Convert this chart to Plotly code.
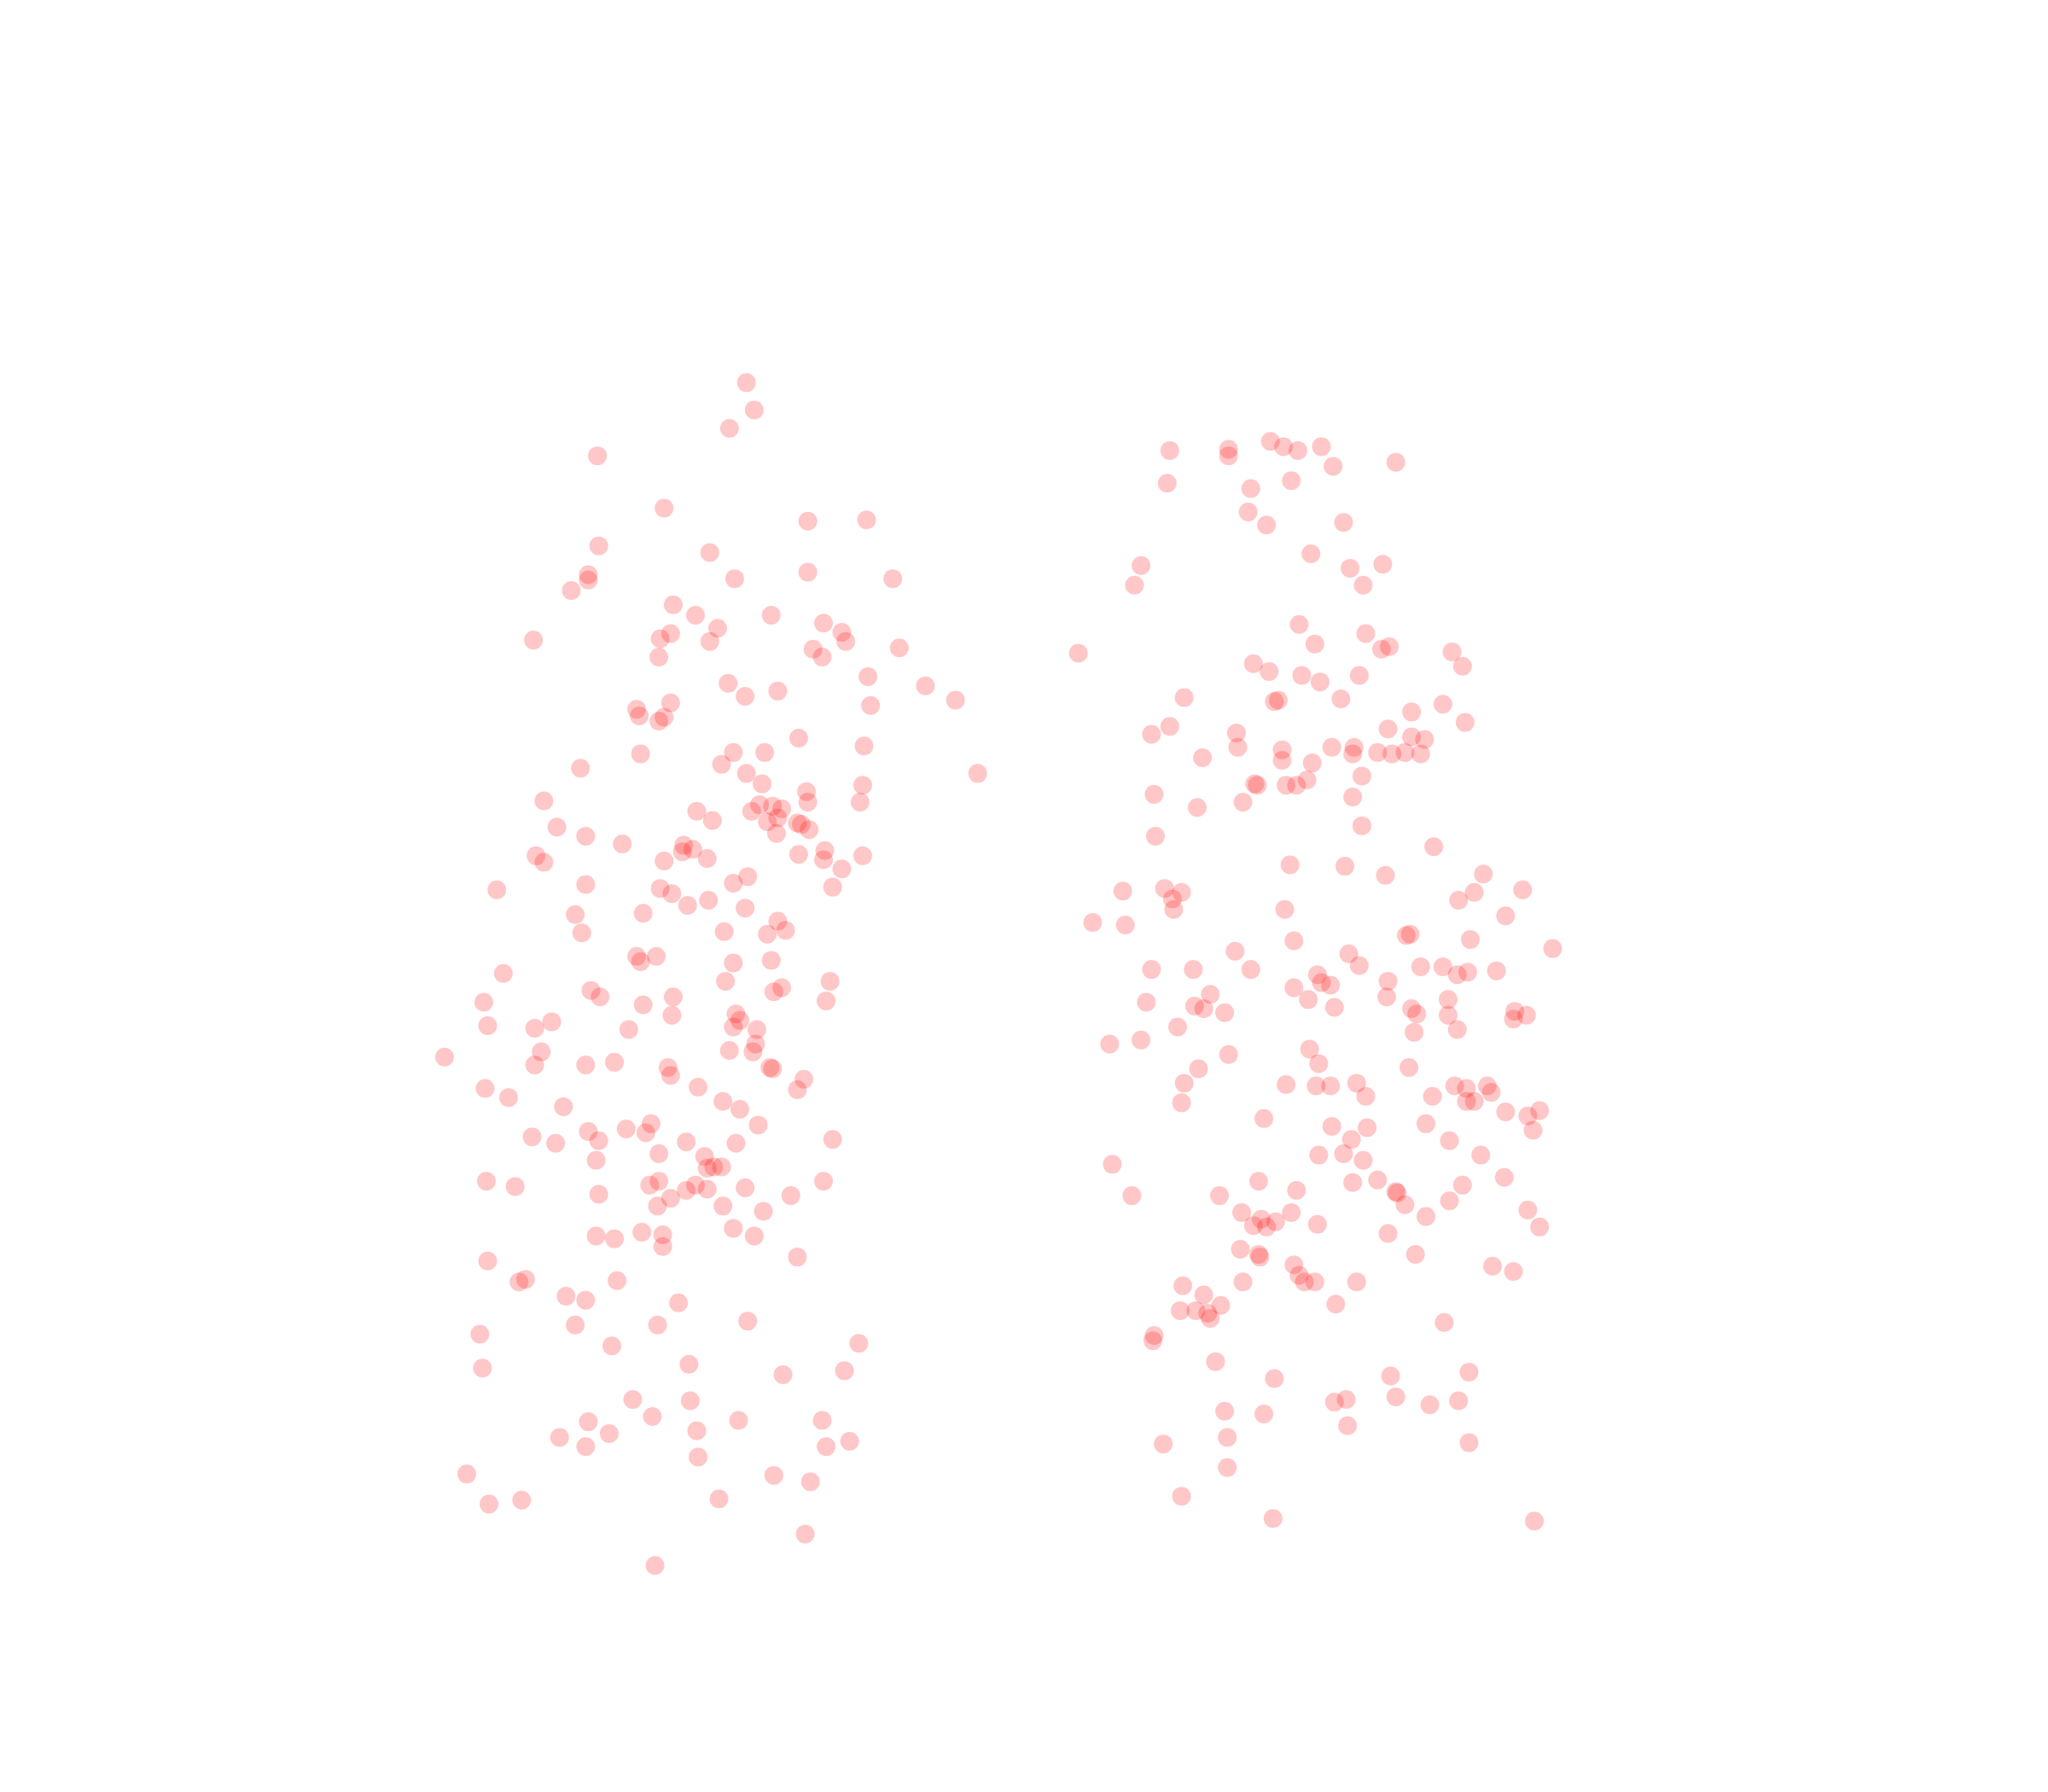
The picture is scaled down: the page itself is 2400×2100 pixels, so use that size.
import plotly.graph_objects as go

left = [(571,293),(577,314),(558,328),(457,349),(508,389),(618,399),(663,398),(458,418),(543,423),(450,440),(450,444),(437,452),(562,443),(618,438),(683,443),(515,463),(532,471),(590,471),(549,481),(630,477),(644,484),(647,491),(408,490),(505,489),(513,485),(543,491),(504,503),(622,497),(629,503),(688,496),(664,518),(557,523),(570,533),(595,529),(708,525),(731,536),(666,540),(513,538),(487,543),(489,548),(508,549),(504,552),(611,565),(661,571),(490,577),(561,576),(585,576),(552,585),(444,588),(571,592),(583,600),(748,592),(660,601),(617,606),(618,614),(658,614),(416,613),(581,616),(591,617),(598,619),(575,621),(533,621),(545,628),(587,629),(595,626),(610,630),(613,631),(619,635),(594,638),(426,633),(448,640),(476,646),(523,647),(530,650),(522,652),(631,651),(611,654),(630,658),(660,655),(410,655),(416,660),(508,659),(541,657),(644,665),(572,671),(561,676),(448,677),(637,679),(380,681),(505,680),(514,684),(526,693),(542,689),(570,695),(492,699),(440,700),(595,705),(601,712),(445,714),(554,713),(587,715),(487,732),(490,736),(502,732),(561,737),(590,735),(385,745),(555,751),(635,751),(598,756),(592,759),(452,758),(459,763),(370,767),(515,763),(492,769),(632,766),(514,777),(563,776),(566,781),(561,786),(422,782),(373,785),(409,787),(481,788),(579,788),(578,799),(576,805),(558,804),(340,809),(414,805),(409,815),(448,815),(470,813),(511,817),(513,823),(589,817),(591,818),(615,826),(610,834),(371,833),(389,840),(534,832),(553,843),(566,849),(431,847),(580,861),(498,860),(479,864),(494,867),(450,866),(458,873),(407,870),(425,875),(525,874),(563,875),(637,872),(504,883),(539,885),(456,888),(541,894),(546,893),(552,893),(372,904),(394,908),(497,907),(504,904),(532,907),(525,911),(541,910),(570,909),(630,904),(458,914),(513,917),(605,915),(503,923),(553,923),(584,927),(561,940),(491,943),(507,945),(456,946),(470,948),(577,946),(507,954),(610,962),(373,965),(472,980),(397,981),(402,979),(433,992),(448,995),(519,997),(440,1014),(503,1014),(572,1011),(367,1021),(468,1030),(657,1028),(527,1044),(369,1047),(646,1049),(599,1052),(484,1071),(528,1072),(450,1088),(499,1084),(565,1087),(629,1087),(428,1100),(466,1097),(533,1095),(448,1107),(632,1107),(650,1103),(534,1115),(357,1128),(592,1129),(620,1134),(374,1151),(399,1148),(550,1147),(616,1174),(501,1198)]

right = [(972,338),(982,342),(993,345),(1011,342),(895,345),(940,344),(940,349),(1020,357),(1068,354),(893,370),(957,374),(988,368),(955,392),(969,402),(1028,400),(1003,424),(873,433),(1033,435),(1058,432),(868,448),(1043,448),(994,478),(1045,485),(1006,493),(1063,495),(1057,497),(825,500),(1111,499),(1119,510),(959,508),(971,514),(996,517),(1010,522),(1040,517),(906,534),(975,537),(978,536),(1026,535),(1104,539),(1080,545),(895,556),(881,562),(946,561),(1121,553),(1062,558),(1080,564),(1090,566),(947,572),(1019,572),(1036,572),(1035,577),(1054,576),(1065,577),(1075,576),(1087,577),(920,580),(981,574),(981,582),(1004,584),(1042,594),(960,600),(962,601),(984,601),(992,601),(1000,597),(883,608),(1035,610),(951,614),(916,618),(1042,632),(884,640),(1097,648),(987,662),(1029,663),(1060,670),(1135,669),(859,682),(891,680),(904,683),(897,688),(898,696),(1128,683),(1165,681),(1116,689),(983,696),(1152,701),(836,706),(861,708),(1079,715),(1076,716),(990,720),(1125,719),(1188,726),(945,728),(1032,730),(1040,739),(881,742),(913,742),(957,742),(1087,740),(1104,740),(1115,746),(1123,744),(1145,743),(1008,746),(1011,752),(1018,754),(990,756),(1062,751),(926,761),(1001,765),(1061,763),(877,767),(914,770),(921,772),(937,775),(1021,771),(1080,772),(1084,776),(1108,765),(1108,777),(1159,774),(1158,780),(1168,777),(901,786),(1082,790),(1115,788),(849,799),(873,796),(940,807),(1002,803),(1009,814),(917,818),(1078,817),(906,829),(984,830),(1007,831),(1018,831),(1038,829),(1113,831),(1122,833),(1138,831),(1141,836),(1096,839),(1045,839),(904,844),(1122,843),(1128,843),(1152,851),(1169,854),(1178,850),(967,856),(1019,862),(1046,863),(1091,860),(1173,865),(1034,872),(1109,873),(1009,884),(1028,883),(1043,888),(1133,884),(851,891),(963,904),(1035,905),(1054,903),(1119,907),(1151,901),(866,915),(933,915),(992,911),(1068,912),(1069,913),(1075,922),(1109,919),(1169,926),(950,928),(965,933),(959,938),(969,939),(976,935),(988,928),(1008,937),(1091,931),(1178,939),(1062,944),(949,956),(963,960),(964,962),(1083,960),(990,968),(1142,969),(1158,973),(994,976),(998,981),(1006,981),(1038,981),(951,981),(905,984),(921,991),(934,999),(903,1003),(915,1003),(924,1005),(926,1009),(1022,998),(1105,1012),(883,1022),(882,1026),(930,1042),(1124,1050),(975,1055),(1064,1053),(1068,1069),(1021,1073),(1030,1071),(1094,1075),(1116,1072),(937,1080),(967,1082),(1031,1091),(939,1100),(890,1105),(1124,1104),(939,1123),(904,1145),(974,1162),(1174,1164)]

fig = go.Figure()
for pts in (left, right):
    fig.add_trace(go.Scatter(
        x=[p[0] for p in pts], y=[p[1] for p in pts], mode="markers",
        marker=dict(size=22, color="red", opacity=0.22, line=dict(width=0)),
        showlegend=False,
    ))
fig.update_layout(
    width=2400, height=2100, margin=dict(l=0, r=0, t=0, b=0),
    paper_bgcolor="white", plot_bgcolor="white",
    xaxis=dict(range=[5.0, 1572.3], visible=False),
    yaxis=dict(range=[1376.5, 5.5], visible=False),
)
fig.write_html("out.html")
